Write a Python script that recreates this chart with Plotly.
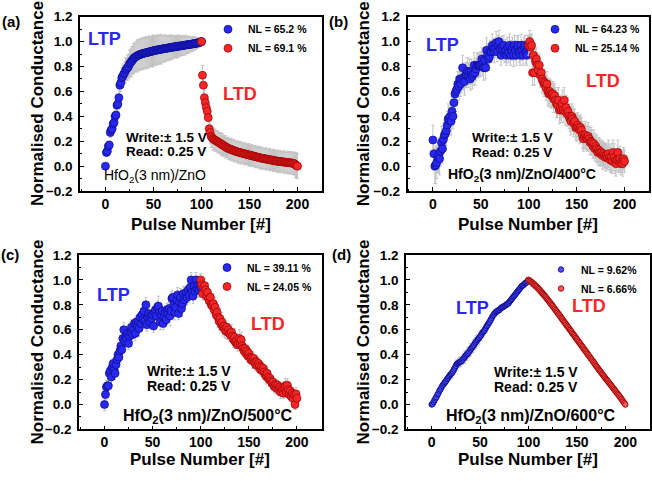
import plotly.graph_objects as go

# ---------------- data ----------------
pulse_ltp = list(range(0, 101))
pulse_ltd = list(range(100, 201))

a_ltp = [0.00, 0.11, 0.12, 0.16, 0.17, 0.27, 0.29, 0.30, 0.34, 0.35,
         0.40, 0.41, 0.49, 0.50, 0.55, 0.65, 0.67, 0.71, 0.72, 0.74,
         0.75, 0.77, 0.78, 0.79, 0.80, 0.82, 0.83, 0.84, 0.85, 0.86,
         0.87, 0.875, 0.88, 0.885, 0.89, 0.893, 0.896, 0.899, 0.902, 0.904,
         0.906, 0.908, 0.910, 0.912, 0.914, 0.916, 0.918, 0.920, 0.922, 0.924,
         0.926, 0.928, 0.930, 0.931, 0.933, 0.934, 0.936, 0.937, 0.939, 0.940,
         0.942, 0.943, 0.945, 0.946, 0.947, 0.949, 0.950, 0.951, 0.953, 0.954,
         0.955, 0.957, 0.958, 0.959, 0.960, 0.962, 0.963, 0.964, 0.965, 0.967,
         0.968, 0.969, 0.970, 0.972, 0.973, 0.974, 0.975, 0.977, 0.978, 0.979,
         0.980, 0.982, 0.983, 0.984, 0.986, 0.987, 0.989, 0.991, 0.993, 0.996,
         1.000]
a_ltp_err = [0.00, 0.03, 0.03, 0.04, 0.03, 0.04, 0.05, 0.05, 0.06, 0.05,
             0.05, 0.06, 0.05, 0.06, 0.06, 0.08, 0.07, 0.08, 0.09, 0.08,
             0.09, 0.10, 0.09, 0.10, 0.10, 0.11, 0.11, 0.12, 0.11, 0.12,
             0.12, 0.11, 0.12, 0.13, 0.12, 0.12, 0.13, 0.12, 0.12, 0.13,
             0.12, 0.12, 0.13, 0.12, 0.12, 0.13, 0.12, 0.11, 0.12, 0.13,
             0.12, 0.11, 0.12, 0.12, 0.11, 0.12, 0.11, 0.11, 0.12, 0.11,
             0.10, 0.10, 0.11, 0.10, 0.10, 0.09, 0.10, 0.10, 0.09, 0.10,
             0.09, 0.09, 0.08, 0.09, 0.09, 0.08, 0.09, 0.08, 0.08, 0.07,
             0.08, 0.07, 0.07, 0.08, 0.07, 0.06, 0.07, 0.06, 0.06, 0.06,
             0.05, 0.06, 0.05, 0.05, 0.05, 0.04, 0.04, 0.04, 0.03, 0.03,
             0.00]
a_ltd = [1.00, 0.73, 0.65, 0.55, 0.51, 0.47, 0.44, 0.39, 0.30, 0.27,
         0.24, 0.23, 0.22, 0.215, 0.21, 0.205, 0.20, 0.195, 0.19, 0.185,
         0.18, 0.175, 0.17, 0.165, 0.16, 0.155, 0.15, 0.146, 0.142, 0.139,
         0.136, 0.133, 0.130, 0.127, 0.124, 0.121, 0.118, 0.116, 0.113, 0.111,
         0.109, 0.107, 0.105, 0.103, 0.101, 0.099, 0.097, 0.095, 0.093, 0.091,
         0.089, 0.087, 0.085, 0.083, 0.081, 0.079, 0.077, 0.075, 0.073, 0.071,
         0.069, 0.067, 0.065, 0.064, 0.062, 0.061, 0.059, 0.058, 0.056, 0.055,
         0.053, 0.052, 0.050, 0.049, 0.047, 0.046, 0.044, 0.043, 0.041, 0.040,
         0.039, 0.038, 0.037, 0.036, 0.035, 0.034, 0.033, 0.032, 0.031, 0.030,
         0.029, 0.028, 0.027, 0.026, 0.025, 0.024, 0.022, 0.018, 0.010, 0.004,
         0.000]
a_ltd_err = [0.00, 0.08, 0.07, 0.06, 0.06, 0.06, 0.06, 0.07, 0.08, 0.09,
             0.09, 0.08, 0.09, 0.08, 0.09, 0.08, 0.08, 0.09, 0.08, 0.08,
             0.09, 0.08, 0.09, 0.08, 0.08, 0.09, 0.08, 0.08, 0.09, 0.08,
             0.08, 0.09, 0.08, 0.08, 0.09, 0.08, 0.08, 0.08, 0.09, 0.08,
             0.08, 0.09, 0.08, 0.08, 0.08, 0.09, 0.08, 0.08, 0.08, 0.09,
             0.08, 0.08, 0.09, 0.08, 0.08, 0.08, 0.09, 0.08, 0.08, 0.08,
             0.09, 0.08, 0.08, 0.09, 0.08, 0.08, 0.08, 0.09, 0.08, 0.08,
             0.08, 0.09, 0.08, 0.08, 0.08, 0.09, 0.08, 0.08, 0.08, 0.09,
             0.08, 0.08, 0.09, 0.08, 0.08, 0.08, 0.09, 0.08, 0.08, 0.09,
             0.08, 0.09, 0.08, 0.09, 0.08, 0.09, 0.09, 0.09, 0.10, 0.10,
             0.10]

b_ltp = [0.21, 0.10, 0.00, 0.01, 0.03, 0.07, 0.085, 0.06, 0.12, 0.19,
         0.14, 0.215, 0.25, 0.26, 0.285, 0.33, 0.38, 0.365, 0.40, 0.36,
         0.44, 0.40, 0.51, 0.58, 0.60, 0.62, 0.66, 0.64, 0.70, 0.66,
         0.70, 0.79, 0.71, 0.68, 0.73, 0.73, 0.76, 0.73, 0.76, 0.70,
         0.76, 0.72, 0.74, 0.81, 0.75, 0.78, 0.81, 0.81, 0.81, 0.81,
         0.82, 0.86, 0.82, 0.79, 0.85, 0.79, 0.93, 0.89, 0.86, 0.88,
         0.92, 0.92, 0.97, 0.94, 0.92, 0.95, 0.99, 0.92, 0.97, 1.00,
         0.94, 0.89, 0.955, 0.93, 0.97, 0.91, 0.93, 0.89, 0.955, 0.91,
         0.97, 0.89, 0.93, 0.955, 0.89, 0.97, 0.93, 0.89, 0.955, 0.97,
         0.91, 0.89, 0.97, 0.93, 0.89, 0.955, 0.97, 0.91, 0.89, 0.97,
         0.97]
b_ltp_err = [0.12, 0.13, 0.14, 0.15, 0.13, 0.12, 0.14, 0.13, 0.12, 0.13,
             0.12, 0.11, 0.12, 0.13, 0.12, 0.11, 0.12, 0.11, 0.12, 0.11,
             0.12, 0.10, 0.11, 0.10, 0.11, 0.10, 0.10, 0.11, 0.10, 0.10,
             0.11, 0.10, 0.10, 0.11, 0.10, 0.10, 0.11, 0.10, 0.10, 0.09,
             0.10, 0.10, 0.09, 0.10, 0.10, 0.09, 0.10, 0.09, 0.10, 0.09,
             0.10, 0.09, 0.09, 0.10, 0.09, 0.09, 0.10, 0.09, 0.09, 0.09,
             0.09, 0.08, 0.09, 0.08, 0.09, 0.08, 0.09, 0.08, 0.08, 0.09,
             0.08, 0.08, 0.09, 0.08, 0.08, 0.08, 0.09, 0.08, 0.08, 0.08,
             0.09, 0.08, 0.08, 0.08, 0.09, 0.08, 0.08, 0.08, 0.09, 0.08,
             0.08, 0.08, 0.09, 0.08, 0.08, 0.08, 0.08, 0.09, 0.08, 0.08,
             0.08]
b_ltd = [0.97, 1.00, 0.955, 0.97, 0.75, 0.89, 0.75, 0.84, 0.86, 0.81,
         0.77, 0.81, 0.73, 0.75, 0.70, 0.68, 0.66, 0.67, 0.63, 0.66,
         0.60, 0.58, 0.60, 0.58, 0.565, 0.58, 0.54, 0.565, 0.53, 0.50,
         0.49, 0.53, 0.45, 0.47, 0.45, 0.50, 0.45, 0.53, 0.44, 0.47,
         0.42, 0.44, 0.40, 0.38, 0.36, 0.40, 0.38, 0.345, 0.36, 0.31,
         0.31, 0.33, 0.31, 0.29, 0.31, 0.29, 0.25, 0.22, 0.24, 0.25,
         0.23, 0.22, 0.24, 0.22, 0.19, 0.20, 0.19, 0.16, 0.18, 0.14,
         0.16, 0.14, 0.11, 0.13, 0.11, 0.10, 0.11, 0.085, 0.10, 0.085,
         0.07, 0.085, 0.07, 0.10, 0.07, 0.05, 0.07, 0.04, 0.11, 0.07,
         0.04, 0.02, 0.05, 0.11, 0.04, 0.06, 0.02, 0.04, 0.02, 0.06,
         0.04]
b_ltd_err = [0.08, 0.09, 0.10, 0.09, 0.10, 0.09, 0.10, 0.10, 0.09, 0.10,
             0.10, 0.09, 0.10, 0.10, 0.11, 0.10, 0.10, 0.11, 0.10, 0.10,
             0.11, 0.10, 0.10, 0.11, 0.10, 0.10, 0.11, 0.10, 0.10, 0.11,
             0.10, 0.10, 0.11, 0.10, 0.10, 0.11, 0.10, 0.10, 0.11, 0.10,
             0.10, 0.11, 0.10, 0.10, 0.11, 0.10, 0.10, 0.11, 0.10, 0.10,
             0.11, 0.10, 0.10, 0.11, 0.10, 0.10, 0.11, 0.10, 0.10, 0.11,
             0.10, 0.10, 0.11, 0.10, 0.10, 0.11, 0.10, 0.10, 0.11, 0.10,
             0.10, 0.11, 0.10, 0.10, 0.11, 0.10, 0.10, 0.11, 0.10, 0.10,
             0.11, 0.10, 0.10, 0.11, 0.10, 0.10, 0.11, 0.10, 0.10, 0.11,
             0.10, 0.10, 0.09, 0.10, 0.09, 0.10, 0.09, 0.09, 0.10, 0.09,
             0.09]

c_ltp = [0.00, 0.08, 0.14, 0.15, 0.15, 0.25, 0.27, 0.22, 0.30, 0.33,
         0.28, 0.25, 0.32, 0.36, 0.40, 0.38, 0.43, 0.47, 0.44, 0.53,
         0.60, 0.51, 0.55, 0.53, 0.57, 0.49, 0.55, 0.58, 0.62, 0.56,
         0.60, 0.65, 0.57, 0.66, 0.63, 0.67, 0.61, 0.70, 0.65, 0.72,
         0.68, 0.75, 0.67, 0.80, 0.64, 0.70, 0.73, 0.66, 0.71, 0.69,
         0.72, 0.63, 0.74, 0.76, 0.71, 0.78, 0.79, 0.74, 0.66, 0.72,
         0.75, 0.65, 0.70, 0.74, 0.68, 0.76, 0.73, 0.77, 0.71, 0.75,
         0.85, 0.86, 0.80, 0.74, 0.78, 0.84, 0.88, 0.73, 0.82, 0.86,
         0.77, 0.81, 0.89, 0.84, 0.87, 0.90, 0.86, 0.92, 0.88, 0.94,
         1.00, 0.90, 0.87, 0.95, 0.91, 1.00, 0.93, 0.96, 0.92, 0.97,
         0.94]
c_ltp_err = [0.05, 0.04, 0.05, 0.04, 0.06, 0.05, 0.04, 0.06, 0.05, 0.04,
             0.06, 0.05, 0.04, 0.05, 0.06, 0.04, 0.05, 0.06, 0.05, 0.04,
             0.06, 0.05, 0.04, 0.05, 0.06, 0.05, 0.04, 0.05, 0.06, 0.05,
             0.05, 0.04, 0.06, 0.05, 0.04, 0.05, 0.06, 0.04, 0.05, 0.05,
             0.06, 0.05, 0.04, 0.06, 0.05, 0.05, 0.06, 0.05, 0.04, 0.05,
             0.06, 0.05, 0.04, 0.05, 0.06, 0.05, 0.08, 0.05, 0.06, 0.05,
             0.04, 0.05, 0.06, 0.05, 0.04, 0.05, 0.06, 0.05, 0.08, 0.05,
             0.06, 0.05, 0.04, 0.06, 0.05, 0.05, 0.06, 0.05, 0.04, 0.07,
             0.06, 0.05, 0.06, 0.05, 0.07, 0.05, 0.06, 0.05, 0.06, 0.07,
             0.06, 0.05, 0.06, 0.07, 0.05, 0.06, 0.05, 0.07, 0.06, 0.05,
             0.05]
c_ltd = [1.00, 0.96, 0.89, 0.94, 0.955, 0.92, 0.87, 0.90, 0.85, 0.83,
         0.86, 0.80, 0.79, 0.81, 0.76, 0.78, 0.72, 0.74, 0.70, 0.67,
         0.69, 0.645, 0.66, 0.62, 0.63, 0.61, 0.59, 0.62, 0.58, 0.60,
         0.57, 0.555, 0.58, 0.55, 0.52, 0.54, 0.50, 0.51, 0.48, 0.49,
         0.53, 0.49, 0.52, 0.47, 0.45, 0.43, 0.45, 0.41, 0.43, 0.39,
         0.41, 0.38, 0.36, 0.375, 0.35, 0.37, 0.34, 0.32, 0.34, 0.31,
         0.33, 0.31, 0.28, 0.30, 0.27, 0.29, 0.26, 0.24, 0.225, 0.25,
         0.22, 0.20, 0.21, 0.19, 0.17, 0.18, 0.15, 0.14, 0.16, 0.13,
         0.155, 0.12, 0.14, 0.10, 0.13, 0.115, 0.09, 0.13, 0.15, 0.10,
         0.155, 0.12, 0.08, 0.11, 0.065, 0.09, 0.05, 0.08, 0.00, 0.085,
         0.05]
c_ltd_err = [0.05, 0.06, 0.05, 0.07, 0.06, 0.05, 0.06, 0.07, 0.06, 0.05,
             0.06, 0.07, 0.06, 0.08, 0.07, 0.08, 0.07, 0.08, 0.08, 0.07,
             0.08, 0.07, 0.08, 0.07, 0.06, 0.07, 0.06, 0.05, 0.06, 0.05,
             0.06, 0.05, 0.06, 0.05, 0.06, 0.07, 0.05, 0.06, 0.05, 0.06,
             0.07, 0.05, 0.06, 0.05, 0.06, 0.05, 0.06, 0.05, 0.04, 0.05,
             0.06, 0.05, 0.04, 0.05, 0.06, 0.05, 0.04, 0.05, 0.05, 0.04,
             0.05, 0.06, 0.05, 0.04, 0.05, 0.05, 0.04, 0.05, 0.06, 0.05,
             0.04, 0.05, 0.05, 0.04, 0.05, 0.04, 0.05, 0.05, 0.04, 0.05,
             0.04, 0.05, 0.04, 0.05, 0.04, 0.05, 0.04, 0.05, 0.06, 0.04,
             0.05, 0.04, 0.05, 0.04, 0.05, 0.04, 0.05, 0.04, 0.04, 0.05,
             0.04]

d_ltp = [0.000, 0.005, 0.020, 0.035, 0.050, 0.060, 0.080, 0.090, 0.110, 0.120,
         0.135, 0.150, 0.160, 0.170, 0.180, 0.190, 0.205, 0.215, 0.225, 0.235,
         0.245, 0.255, 0.265, 0.280, 0.295, 0.310, 0.325, 0.330, 0.335, 0.340,
         0.345, 0.350, 0.360, 0.370, 0.380, 0.390, 0.400, 0.405, 0.415, 0.425,
         0.440, 0.450, 0.460, 0.470, 0.480, 0.495, 0.505, 0.515, 0.525, 0.535,
         0.545, 0.555, 0.570, 0.580, 0.590, 0.600, 0.615, 0.630, 0.640, 0.655,
         0.665, 0.680, 0.695, 0.710, 0.720, 0.730, 0.740, 0.745, 0.750, 0.755,
         0.760, 0.770, 0.775, 0.780, 0.785, 0.790, 0.795, 0.800, 0.805, 0.810,
         0.820, 0.830, 0.840, 0.850, 0.860, 0.870, 0.880, 0.890, 0.900, 0.910,
         0.920, 0.930, 0.940, 0.950, 0.955, 0.960, 0.970, 0.975, 0.980, 0.990,
         1.000]
d_ltp_err = [0.01, 0.02, 0.02, 0.02, 0.03, 0.02, 0.02, 0.03, 0.02, 0.02,
             0.03, 0.02, 0.03, 0.02, 0.03, 0.03, 0.02, 0.03, 0.03, 0.03,
             0.03, 0.04, 0.03, 0.04, 0.03, 0.04, 0.04, 0.03, 0.04, 0.04,
             0.04, 0.03, 0.04, 0.04, 0.05, 0.04, 0.04, 0.05, 0.04, 0.04,
             0.05, 0.04, 0.04, 0.05, 0.04, 0.04, 0.05, 0.04, 0.04, 0.05,
             0.04, 0.04, 0.03, 0.04, 0.03, 0.03, 0.04, 0.03, 0.03, 0.03,
             0.03, 0.03, 0.02, 0.03, 0.03, 0.02, 0.03, 0.02, 0.03, 0.02,
             0.02, 0.03, 0.02, 0.02, 0.02, 0.02, 0.03, 0.02, 0.02, 0.02,
             0.02, 0.02, 0.02, 0.02, 0.02, 0.02, 0.02, 0.02, 0.02, 0.02,
             0.02, 0.02, 0.02, 0.02, 0.02, 0.01, 0.02, 0.01, 0.01, 0.01,
             0.01]
d_ltd = [1.000, 0.995, 0.989, 0.983, 0.976, 0.969, 0.962, 0.955, 0.948, 0.940,
         0.932, 0.924, 0.915, 0.906, 0.897, 0.888, 0.879, 0.869, 0.860, 0.850,
         0.840, 0.830, 0.820, 0.810, 0.800, 0.790, 0.779, 0.768, 0.758, 0.747,
         0.737, 0.726, 0.716, 0.705, 0.694, 0.684, 0.673, 0.662, 0.652, 0.641,
         0.630, 0.620, 0.609, 0.598, 0.588, 0.577, 0.566, 0.556, 0.545, 0.534,
         0.524, 0.513, 0.502, 0.492, 0.481, 0.470, 0.460, 0.449, 0.438, 0.428,
         0.417, 0.406, 0.396, 0.385, 0.374, 0.364, 0.353, 0.342, 0.331, 0.320,
         0.309, 0.298, 0.288, 0.277, 0.267, 0.257, 0.247, 0.237, 0.226, 0.216,
         0.206, 0.196, 0.186, 0.176, 0.166, 0.156, 0.146, 0.136, 0.126, 0.116,
         0.106, 0.096, 0.086, 0.076, 0.066, 0.055, 0.044, 0.033, 0.022, 0.011,
         0.000]
d_ltd_err = [0.01, 0.02, 0.02, 0.03, 0.03, 0.03, 0.03, 0.03, 0.03, 0.03,
             0.03, 0.03, 0.03, 0.03, 0.03, 0.03, 0.03, 0.03, 0.03, 0.03,
             0.03, 0.03, 0.03, 0.03, 0.03, 0.03, 0.03, 0.03, 0.03, 0.03,
             0.03, 0.03, 0.03, 0.03, 0.03, 0.03, 0.03, 0.03, 0.03, 0.03,
             0.03, 0.03, 0.03, 0.03, 0.03, 0.03, 0.03, 0.03, 0.03, 0.03,
             0.03, 0.03, 0.03, 0.03, 0.03, 0.03, 0.03, 0.03, 0.03, 0.03,
             0.03, 0.03, 0.02, 0.03, 0.02, 0.03, 0.02, 0.02, 0.03, 0.02,
             0.02, 0.02, 0.02, 0.02, 0.02, 0.02, 0.02, 0.02, 0.02, 0.02,
             0.02, 0.02, 0.02, 0.02, 0.02, 0.02, 0.02, 0.02, 0.02, 0.02,
             0.02, 0.02, 0.02, 0.02, 0.02, 0.02, 0.02, 0.02, 0.02, 0.02,
             0.02]

panel_labels = ["(a)", "(b)", "(c)", "(d)"]
nl_ltp = ["NL = 65.2 %", "NL = 64.23 %", "NL = 39.11 %", "NL = 9.62%"]
nl_ltd = ["NL = 69.1 %", "NL = 25.14 %", "NL = 24.05 %", "NL = 6.66%"]
sample_names = ["HfO<sub>2</sub>(3 nm)/ZnO",
                "HfO<sub>2</sub>(3 nm)/ZnO/400°C",
                "HfO<sub>2</sub>(3 nm)/ZnO/500°C",
                "HfO<sub>2</sub>(3 nm)/ZnO/600°C"]
x_ticks = [0, 50, 100, 150, 200]
y_ticks = [-0.2, 0.0, 0.2, 0.4, 0.6, 0.8, 1.0, 1.2]

ltp_sets = [(a_ltp, a_ltp_err), (b_ltp, b_ltp_err), (c_ltp, c_ltp_err), (d_ltp, d_ltp_err)]
ltd_sets = [(a_ltd, a_ltd_err), (b_ltd, b_ltd_err), (c_ltd, c_ltd_err), (d_ltd, d_ltd_err)]

# ---------------- layout geometry (pixels) ----------------
W, H = 652, 481
FONT = "Arial, Liberation Sans, sans-serif"
BLUE = "#2828ee"
RED = "#f22828"
ERR = "#c2c2c2"

# plot boxes: (left, right, top, bottom) in px
boxes = [(80, 322, 10, 190), (407.5, 649, 10, 190),
         (79, 321.5, 256, 436), (406, 650, 256, 436)]

fig = go.Figure()

def px2x(p):
    return p / W

def px2y(p):
    return 1 - p / H

msize = [8, 8, 8, 5.5]

for i in range(4):
    xa = "x" if i == 0 else f"x{i+1}"
    ya = "y" if i == 0 else f"y{i+1}"
    lg = "legend" if i == 0 else f"legend{i+1}"
    ltp, ltp_err = ltp_sets[i]
    ltd, ltd_err = ltd_sets[i]
    lw = 0.7 if i < 3 else 0.9
    fig.add_trace(go.Scatter(
        x=pulse_ltp, y=ltp, mode="markers", name=nl_ltp[i], xaxis=xa, yaxis=ya, legend=lg,
        marker=dict(size=msize[i], color=BLUE if i < 3 else "#5050ff",
                    line=dict(color="#0a0a8a", width=lw)),
        error_y=dict(type="data", array=ltp_err, visible=True, color=ERR,
                     thickness=1, width=1.5)))
    fig.add_trace(go.Scatter(
        x=pulse_ltd, y=ltd, mode="markers", name=nl_ltd[i], xaxis=xa, yaxis=ya, legend=lg,
        marker=dict(size=msize[i], color=RED if i < 3 else "#ff5a5a",
                    line=dict(color="#9a0000", width=lw)),
        error_y=dict(type="data", array=ltd_err, visible=True, color=ERR,
                     thickness=1, width=1.5)))

axis_common = dict(showline=True, linecolor="black", linewidth=1.5, mirror=True,
                   showgrid=False, zeroline=False, ticks="inside", tickcolor="black",
                   tickwidth=1.2, ticklen=4,
                   tickfont=dict(family=FONT, size=14, color="black", weight="bold"))

layout_axes = {}
for i, (l, r, t, b) in enumerate(boxes):
    sx = "" if i == 0 else str(i + 1)
    layout_axes[f"xaxis{sx}"] = dict(
        axis_common, domain=[px2x(l), px2x(r)], anchor=f"y{sx}", range=[-26.5, 225.5],
        tickvals=x_ticks, ticklabelstandoff=-1,
        minor=dict(ticks="inside", ticklen=2.5, tickwidth=1, tickcolor="black", dtick=25, tick0=0))
    layout_axes[f"yaxis{sx}"] = dict(
        axis_common, domain=[px2y(b), px2y(t)], anchor=f"x{sx}", range=[-0.2, 1.2],
        tickvals=y_ticks, tickformat=".1f", ticklabelstandoff=3,
        tickfont=dict(family=FONT, size=13.5, color="black", weight="bold"),
        minor=dict(ticks="inside", ticklen=2.5, tickwidth=1, tickcolor="black", dtick=0.1, tick0=0))

fig.update_layout(**layout_axes)

# legends
leg_pos = [(208, 8), (535, 8), (207, 254), (541, 256)]
legs = {}
for i, (lx, ly) in enumerate(leg_pos):
    key = "legend" if i == 0 else f"legend{i+1}"
    legs[key] = dict(x=px2x(lx), y=px2y(ly), xanchor="left", yanchor="top",
                     bgcolor="rgba(0,0,0,0)", borderwidth=0,
                     font=dict(family=FONT, size=10.5, color="black", weight="bold"),
                     itemwidth=30)
fig.update_layout(**legs)

annotations = []
def add_text(i, x, y, text, size, color="black", weight="bold", xanchor="center"):
    sx = "" if i == 0 else str(i + 1)
    annotations.append(dict(x=x, y=y, xref=f"x{sx}", yref=f"y{sx}", text=text,
                            showarrow=False, xanchor=xanchor, yanchor="middle",
                            font=dict(family=FONT, size=size, color=color, weight=weight)))

ltp_pos = [(-1.4, 1.02), (9.5, 0.975), (9.8, 0.88), (42.1, 0.774)]
ltd_pos = [(140, 0.58), (178, 0.68), (170, 0.645), (162, 0.79)]
write_pos = [(19.5, 0.23, 0.12), (38.7, 0.23, 0.112), (42.2, 0.265, 0.15), (62.8, 0.26, 0.143)]
wsize = [13.5, 13.5, 14, 14]
name_pos = [(-3.4, -0.08), (14, -0.074), (17, -0.099), (12.8, -0.099)]
name_size = [14, 14, 16, 16]
name_weight = ["normal", "bold", "bold", "bold"]

for i in range(4):
    add_text(i, ltp_pos[i][0], ltp_pos[i][1], "LTP", 18, BLUE)
    add_text(i, ltd_pos[i][0], ltd_pos[i][1], "LTD", 18, RED)
    add_text(i, write_pos[i][0], write_pos[i][1], "Write:± 1.5 V", wsize[i], xanchor="left")
    add_text(i, write_pos[i][0], write_pos[i][2], "Read: 0.25 V", wsize[i], xanchor="left")
    add_text(i, name_pos[i][0], name_pos[i][1], sample_names[i], name_size[i],
             weight=name_weight[i], xanchor="left")

# panel labels and axis titles (paper coords)
plab_pos = [(11, 15), (338.5, 15), (10, 255), (341, 255)]
ytitle_x = [38, 364.3, 37.3, 363.3]
xtitle_y = [224, 224, 466.7, 466.7]
for i, (l, r, t, b) in enumerate(boxes):
    annotations.append(dict(x=px2x(plab_pos[i][0]), y=px2y(plab_pos[i][1]), xref="paper", yref="paper",
                            text=panel_labels[i], showarrow=False, xanchor="center", yanchor="middle",
                            font=dict(family=FONT, size=15, color="black", weight="bold")))
    annotations.append(dict(x=px2x(ytitle_x[i]), y=px2y((t + b) / 2), xref="paper", yref="paper",
                            text="Normalised Conductance", textangle=-90, showarrow=False,
                            xanchor="center", yanchor="middle",
                            font=dict(family=FONT, size=17, color="black", weight="bold")))
    annotations.append(dict(x=px2x((l + r) / 2), y=px2y(xtitle_y[i]), xref="paper", yref="paper",
                            text="Pulse Number [#]", showarrow=False, xanchor="center", yanchor="middle",
                            font=dict(family=FONT, size=17, color="black", weight="bold")))

fig.update_layout(width=W, height=H, margin=dict(l=0, r=0, t=0, b=0),
                  paper_bgcolor="white", plot_bgcolor="white",
                  annotations=annotations, showlegend=True)

fig.write_html("out.html", config={"displayModeBar": False},
               post_script="document.body.style.margin='0';document.body.style.padding='0';")
